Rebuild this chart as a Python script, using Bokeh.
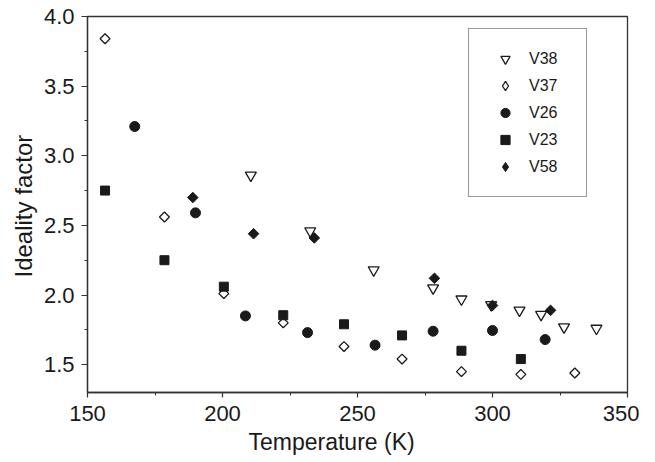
import math
from bokeh.plotting import figure
from bokeh.models import Range1d, SingleIntervalTicker, NumeralTickFormatter, Title, Legend, LegendItem
from bokeh.embed import file_html
from bokeh.resources import INLINE

# Data: temperature (K) and ideality factor
v38_T = [210.5, 232.5, 256, 278, 288.5, 299.5, 310, 318, 326.5, 338.5]
v38_n = [2.86, 2.46, 2.18, 2.05, 1.97, 1.93, 1.89, 1.86, 1.77, 1.76]

v37_T = [156.5, 178.5, 200.5, 222.5, 245, 266.5, 288.5, 310.5, 330.5]
v37_n = [3.84, 2.56, 2.01, 1.80, 1.63, 1.54, 1.45, 1.43, 1.44]

v26_T = [167.5, 190, 208.5, 231.5, 256.5, 278, 300, 319.5]
v26_n = [3.21, 2.59, 1.85, 1.73, 1.64, 1.74, 1.745, 1.68]

v23_T = [156.5, 178.5, 200.5, 222.5, 245, 266.5, 288.5, 310.5]
v23_n = [2.75, 2.25, 2.06, 1.855, 1.79, 1.71, 1.60, 1.54]

v58_T = [189, 211.5, 234, 278.5, 300, 321.5]
v58_n = [2.70, 2.44, 2.41, 2.12, 1.925, 1.89]

series_labels = ["V38", "V37", "V26", "V23", "V58"]

FONT = "Liberation Sans"
INK = "#1a1a1a"
AX = "#333333"

p = figure(frame_width=540, frame_height=376,
           x_range=Range1d(150, 350), y_range=Range1d(1.3, 4.0),
           output_backend="svg", toolbar_location=None,
           min_border_left=87, min_border_right=12, min_border_top=16, min_border_bottom=60,
           background_fill_color="white", border_fill_color="white")

p.xgrid.visible = False
p.ygrid.visible = False
p.outline_line_color = AX
p.outline_line_width = 1.3

p.xaxis.ticker = SingleIntervalTicker(interval=50, num_minor_ticks=2)
p.yaxis.ticker = SingleIntervalTicker(interval=0.5, num_minor_ticks=2)
p.yaxis.formatter = NumeralTickFormatter(format="0.0")

for ax in (p.xaxis[0], p.yaxis[0]):
    ax.axis_line_color = AX
    ax.axis_line_width = 1.3
    ax.major_tick_line_color = AX
    ax.minor_tick_line_color = AX
    ax.major_tick_line_width = 1.2
    ax.minor_tick_line_width = 1.0
    ax.major_tick_in = 0
    ax.minor_tick_in = 0
    ax.major_label_text_font = FONT
    ax.major_label_text_font_size = "22px"
    ax.major_label_text_color = INK

p.xaxis.major_tick_out = 5
p.xaxis.minor_tick_out = 3
p.xaxis.major_label_standoff = 8
p.yaxis.major_tick_out = 6
p.yaxis.minor_tick_out = 3
p.yaxis.major_label_standoff = 7

# axis titles placed as Titles so they can sit off-centre like the original
p.add_layout(Title(text="Temperature (K)", align="left", offset=161,
                   text_font=FONT, text_font_size="23px", text_font_style="normal",
                   text_color=INK, standoff=6), "below")
p.add_layout(Title(text="Ideality factor", align="left", offset=115,
                   text_font=FONT, text_font_size="24px", text_font_style="normal",
                   text_color=INK, standoff=7), "left")

open_kw = dict(line_color=INK, fill_color="white", line_width=1.3)
fill_kw = dict(line_color=INK, fill_color=INK, line_width=1.0)

r38 = p.scatter(v38_T, v38_n, marker="inverted_triangle", size=11, **open_kw)
r37 = p.scatter(v37_T, v37_n, marker="square", angle=math.pi / 4, size=7, **open_kw)
r26 = p.scatter(v26_T, v26_n, marker="circle", size=10, **fill_kw)
r23 = p.scatter(v23_T, v23_n, marker="square", size=9, **fill_kw)
r58 = p.scatter(v58_T, v58_n, marker="square", angle=math.pi / 4, size=7.5, **fill_kw)

# hidden diamond renderers, used only for the legend swatches (legend ignores marker angle)
r37_key = p.scatter(v37_T, v37_n, marker="diamond", size=10, visible=False, **open_kw)
r58_key = p.scatter(v58_T, v58_n, marker="diamond", size=10, visible=False, **fill_kw)

lg = Legend(items=[LegendItem(label=series_labels[0], renderers=[r38]),
                   LegendItem(label=series_labels[1], renderers=[r37_key]),
                   LegendItem(label=series_labels[2], renderers=[r26]),
                   LegendItem(label=series_labels[3], renderers=[r23]),
                   LegendItem(label=series_labels[4], renderers=[r58_key])])
lg.location = (381, 195)
lg.margin = 0
lg.padding = 18
lg.spacing = 4
lg.glyph_width = 36
lg.glyph_height = 23
lg.label_height = 20
lg.label_width = 39
lg.label_standoff = 6
lg.label_text_font = FONT
lg.label_text_font_size = "16px"
lg.label_text_color = INK
lg.border_line_color = AX
lg.border_line_width = 1.2
lg.background_fill_color = "white"
lg.background_fill_alpha = 1.0
lg.inactive_fill_alpha = 0.0
p.add_layout(lg, "center")

open("out.html", "w").write(file_html(p, INLINE))
